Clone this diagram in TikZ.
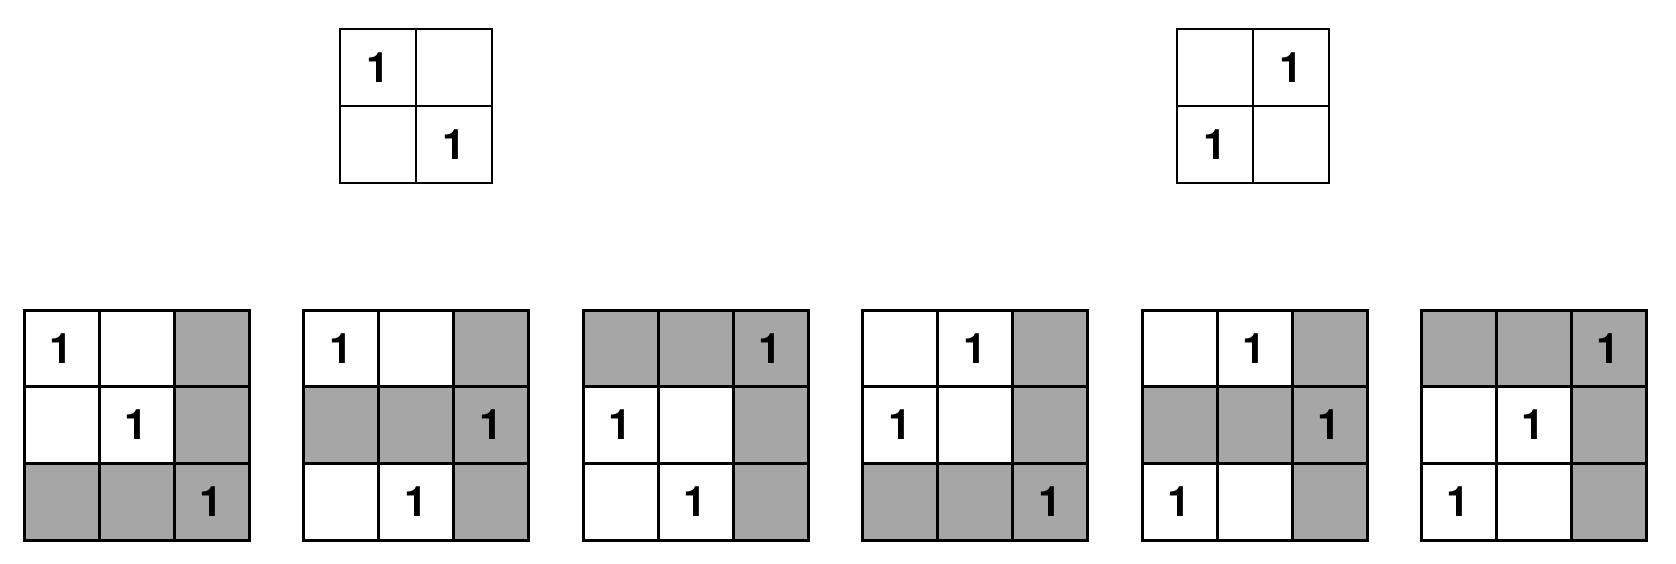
\documentclass[tikz,border=0pt]{standalone}
\usepackage{fontspec}
\setmainfont{TeX Gyre Heros}
\definecolor{shade}{HTML}{A6A6A6}
\newcommand\bigrid[3]{%
  \foreach \i/\j/\f/\t in {#3}
    \node[cell, fill=\f] (#1-\i-\j) at ({#2+75*\j},{310+76.7*\i}) {\t};}
\newcommand\smallgrid[3]{%
  \foreach \i/\j/\t in {#3}
    \node[scell] (#1-\i-\j) at ({#2+76*\j},{29+77*\i}) {\t};}
\begin{document}
\begin{tikzpicture}[x=1pt,y=-1pt,
  cell/.style={draw=black, line width=3pt, inner sep=0pt, outer sep=0pt,
    minimum width=75pt, minimum height=76.7pt, anchor=north west,
    font=\fontsize{42}{42}\selectfont\bfseries},
  scell/.style={cell, fill=white, minimum width=76pt, minimum height=77pt, line width=2.8pt}]
\useasboundingbox (0,0) rectangle (1676,563);
\fill[white] (0,0) rectangle (1676,563);
\smallgrid{ta}{340}{0/0/1, 0/1/, 1/0/, 1/1/1}
\smallgrid{tb}{1177}{0/0/, 0/1/1, 1/0/1, 1/1/}
\bigrid{ga}{24}{0/0/white/1, 0/1/white/, 0/2/shade/, 1/0/white/, 1/1/white/1, 1/2/shade/, 2/0/shade/, 2/1/shade/, 2/2/shade/1}
\bigrid{gb}{303.5}{0/0/white/1, 0/1/white/, 0/2/shade/, 1/0/shade/, 1/1/shade/, 1/2/shade/1, 2/0/white/, 2/1/white/1, 2/2/shade/}
\bigrid{gc}{583}{0/0/shade/, 0/1/shade/, 0/2/shade/1, 1/0/white/1, 1/1/white/, 1/2/shade/, 2/0/white/, 2/1/white/1, 2/2/shade/}
\bigrid{gd}{862.5}{0/0/white/, 0/1/white/1, 0/2/shade/, 1/0/white/1, 1/1/white/, 1/2/shade/, 2/0/shade/, 2/1/shade/, 2/2/shade/1}
\bigrid{ge}{1142}{0/0/white/, 0/1/white/1, 0/2/shade/, 1/0/shade/, 1/1/shade/, 1/2/shade/1, 2/0/white/1, 2/1/white/, 2/2/shade/}
\bigrid{gf}{1421}{0/0/shade/, 0/1/shade/, 0/2/shade/1, 1/0/white/, 1/1/white/1, 1/2/shade/, 2/0/white/1, 2/1/white/, 2/2/shade/}
\end{tikzpicture}
\end{document}
